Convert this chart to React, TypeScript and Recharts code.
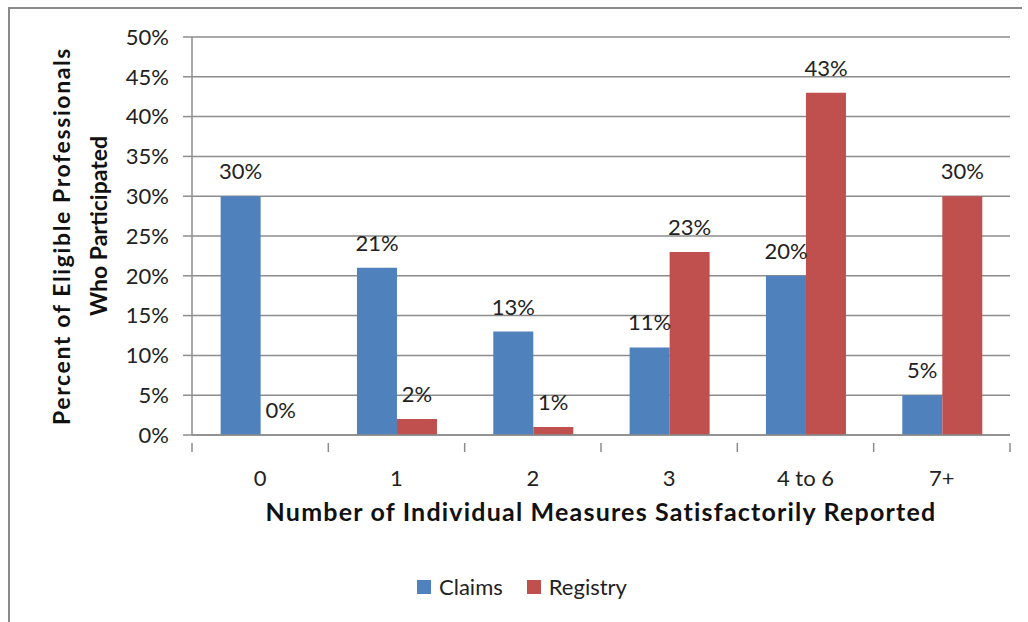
import React from 'react';
import { BarChart, Bar, XAxis, YAxis, CartesianGrid, LabelList } from 'recharts';

const categories = ['0', '1', '2', '3', '4 to 6', '7+'];
const claims = [30, 21, 13, 11, 20, 5];
const registry = [0, 2, 1, 23, 43, 30];
const yTicks = [0, 5, 10, 15, 20, 25, 30, 35, 40, 45, 50];

const data = categories.map((c, i) => ({ name: c, claims: claims[i], registry: registry[i] }));

const W = 1028;
const H = 622;
const X_H = 100;
const M = { top: 37, right: 18, bottom: H - 435 - X_H, left: 100 };
const Y_W = 92;
const band = (W - M.left - Y_W - M.right) / categories.length;
const FONT = 'Lato, "Open Sans", sans-serif';
const GRID = '#8c8c8c';

const XTick = (props: any) => {
  const { x, y, payload, index } = props;
  return (
    <g>
      <line x1={x - band / 2} x2={x - band / 2} y1={y} y2={y + 9} stroke={GRID} strokeWidth={1.5} />
      {index === categories.length - 1 && (
        <line x1={x + band / 2} x2={x + band / 2} y1={y} y2={y + 9} stroke={GRID} strokeWidth={1.5} />
      )}
      <text x={x} y={y + 43} textAnchor="middle" fontSize={22} fill="#222" fontFamily={FONT}>
        {payload.value}
      </text>
    </g>
  );
};

const XTitle = (props: any) => {
  const { viewBox } = props;
  return (
    <text
      x={viewBox.x + viewBox.width / 2}
      y={viewBox.y + 86}
      textAnchor="middle"
      fontFamily={FONT}
      fontWeight="bold"
      fontSize={25}
      letterSpacing={1.2}
      fill="#111"
    >
      Number of Individual Measures Satisfactorily Reported
    </text>
  );
};

const YTitle = (props: any) => {
  const { viewBox } = props;
  const cy = viewBox.y + viewBox.height / 2;
  return (
    <g fontFamily={FONT} fontWeight="bold" fontSize={23} fill="#111">
      <text x={0} y={0} textAnchor="middle" letterSpacing={1.6} transform={`translate(70, ${cy}) rotate(-90)`}>
        Percent of Eligible Professionals
      </text>
      <text x={0} y={0} textAnchor="middle" transform={`translate(107, ${cy - 10}) rotate(-90)`}>
        Who Participated
      </text>
    </g>
  );
};

const pct = (v: any) => `${v}%`;
const keepZero = (v: any) => (v === 0 ? 0.01 : 0);

export default function App() {
  return (
    <div style={{ position: 'absolute', left: 0, top: 0, width: W, height: H, background: '#fff' }}>
      <div
        style={{
          position: 'absolute',
          left: 8,
          top: 7,
          width: 1012,
          height: H - 7,
          borderTop: '2px solid #8a8a8a',
          borderLeft: '2px solid #8a8a8a',
        }}
      />
      <div style={{ position: 'absolute', left: 0, top: 0 }}>
        <BarChart width={W} height={H} data={data} margin={M} barGap={0} barCategoryGap="21%">
          <CartesianGrid vertical={false} stroke={GRID} strokeWidth={1.5} />
          <XAxis
            dataKey="name"
            height={X_H}
            stroke={GRID}
            strokeWidth={1.5}
            tickLine={false}
            tick={<XTick />}
            interval={0}
            label={<XTitle />}
          />
          <YAxis
            width={Y_W}
            domain={[0, 50]}
            ticks={yTicks}
            tickFormatter={pct}
            stroke={GRID}
            strokeWidth={1.5}
            tickSize={9}
            tickMargin={14}
            tick={{ fontSize: 22, fill: '#222', fontFamily: FONT }}
            label={<YTitle />}
          />
          <Bar dataKey="claims" fill="#4F81BD" isAnimationActive={false}>
            <LabelList dataKey="claims" position="top" offset={17} formatter={pct} fontSize={22} fill="#222" fontFamily={FONT} />
          </Bar>
          <Bar dataKey="registry" fill="#C0504D" isAnimationActive={false} minPointSize={keepZero}>
            <LabelList dataKey="registry" position="top" offset={17} formatter={pct} fontSize={22} fill="#222" fontFamily={FONT} />
          </Bar>
        </BarChart>
      </div>
      <div
        style={{
          position: 'absolute',
          top: 573,
          left: 0,
          width: W,
          display: 'flex',
          justifyContent: 'center',
          gap: 24,
          fontFamily: FONT,
          fontSize: 22,
          color: '#222',
          paddingLeft: 16,
          boxSizing: 'border-box',
        }}
      >
        <span style={{ display: 'flex', alignItems: 'center' }}>
          <span style={{ width: 14, height: 14, background: '#4F81BD', marginRight: 8 }} />
          Claims
        </span>
        <span style={{ display: 'flex', alignItems: 'center' }}>
          <span style={{ width: 14, height: 14, background: '#C0504D', marginRight: 8 }} />
          Registry
        </span>
      </div>
    </div>
  );
}
